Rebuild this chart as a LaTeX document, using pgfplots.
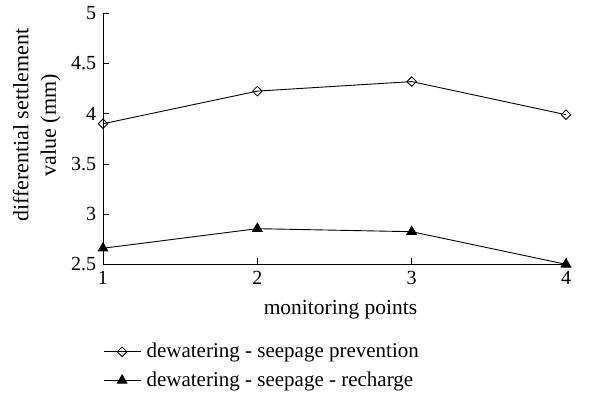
\documentclass[border=0pt]{standalone}
\usepackage{fontspec}
\setmainfont{Liberation Serif}
\usepackage{pgfplots}
\pgfplotsset{compat=1.18}
\begin{document}
\fontsize{20bp}{24bp}\selectfont
\begin{tikzpicture}
\path (-103bp,-133bp) rectangle (492bp,263bp);
\begin{axis}[
  at={(0,0)}, anchor=south west,
  scale only axis,
  width=463bp, height=251bp,
  axis lines*=left,
  axis line style={line width=0.9bp},
  xmin=1, xmax=4, ymin=2.5, ymax=5,
  xtick={1,2,3,4},
  ytick={2.5,3,3.5,4,4.5,5},
  tick align=inside,
  major tick length=6bp,
  tick style={line width=0.8bp, black},
  /pgf/number format/assume math mode=true,
  tick label style={font=\fontsize{20bp}{24bp}\selectfont},
  xlabel={monitoring points},
  xlabel style={font=\fontsize{21.5bp}{26bp}\selectfont, yshift=-2bp, xshift=6bp},
  ylabel={differential settlement\\value (mm)},
  ylabel style={align=center, font=\fontsize{22bp}{27.5bp}\selectfont,
    at={(axis description cs:-0.077,0.554)}, anchor=south, rotate=0},
  legend style={at={(axis description cs:0,-0.305)}, anchor=north west, draw=none,
    font=\fontsize{21bp}{25bp}\selectfont, row sep=7bp, inner sep=0pt,
    /tikz/every odd column/.append style={column sep=3.5bp}},
  legend cell align=left,
  legend image code/.code={\draw[#1, mark repeat=2, mark phase=2] plot coordinates {(0bp,0bp) (18.5bp,0bp) (37bp,0bp)};},
  clip=false,
]
\addplot[black, line width=0.9bp, mark=square, mark size=3.4bp, mark options={rotate=45, fill=white, line width=0.8bp}]
 coordinates {(1,3.90) (2,4.225) (3,4.32) (4,3.99)};
\addlegendentry{dewatering - seepage prevention}
\addplot[black, line width=0.9bp, mark=triangle*, mark size=5.5bp, mark options={fill=black}]
 coordinates {(1,2.66) (2,2.855) (3,2.825) (4,2.50)};
\addlegendentry{dewatering - seepage - recharge}
\end{axis}
\end{tikzpicture}
\end{document}
